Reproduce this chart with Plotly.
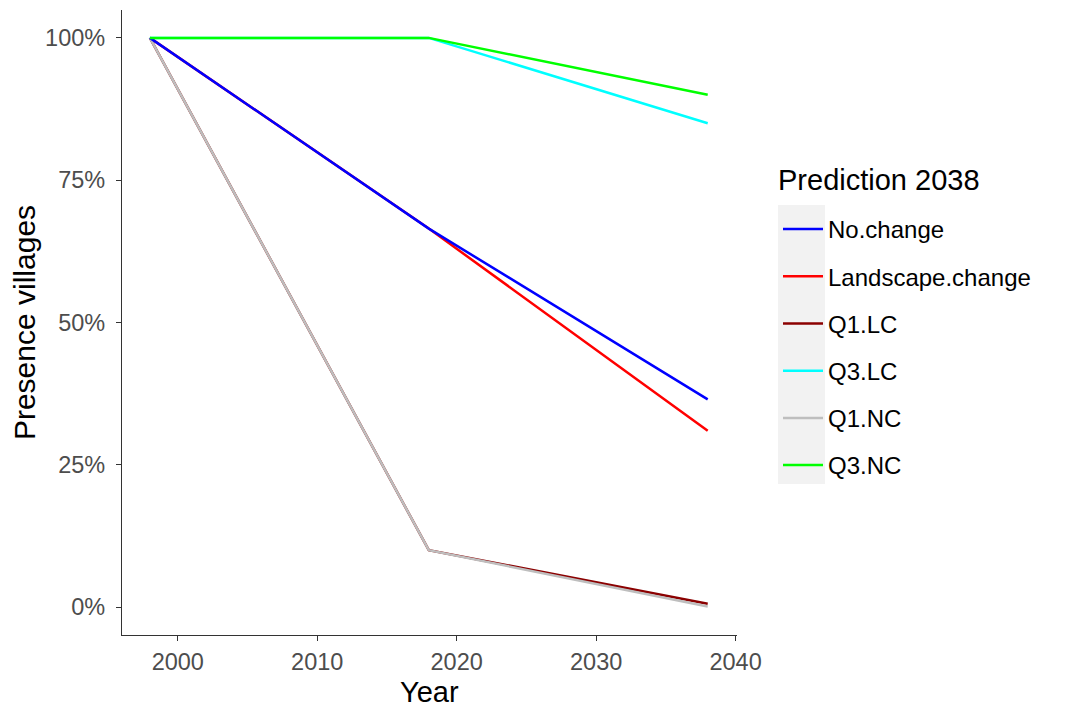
import plotly.graph_objects as go

years = [1998, 2018, 2038]
series_names = ["No.change", "Landscape.change", "Q1.LC", "Q3.LC", "Q1.NC", "Q3.NC"]
no_change = [1.0, 0.665, 0.365]
landscape_change = [1.0, 0.665, 0.31]
q1_lc = [1.0, 0.10, 0.006]
q3_lc = [1.0, 1.0, 0.85]
q1_nc = [1.0, 0.10, 0.001]
q3_nc = [1.0, 1.0, 0.90]
values = {
    "No.change": no_change,
    "Landscape.change": landscape_change,
    "Q1.LC": q1_lc,
    "Q3.LC": q3_lc,
    "Q1.NC": q1_nc,
    "Q3.NC": q3_nc,
}
colors = {
    "No.change": "#0000FF",
    "Landscape.change": "#FF0000",
    "Q1.LC": "#8B0000",
    "Q3.LC": "#00FFFF",
    "Q1.NC": "#BEBEBE",
    "Q3.NC": "#00FF00",
}
draw_order = ["Landscape.change", "Q1.LC", "Q3.LC", "Q1.NC", "No.change", "Q3.NC"]
y_ticks = [0, 0.25, 0.5, 0.75, 1.0]
y_tick_labels = ["0%", "25%", "50%", "75%", "100%"]
x_ticks = [2000, 2010, 2020, 2030, 2040]

# page body has an 8px margin, so the figure is offset by 8px in the window
W, H = 1050, 700
L, T = 114, 2
PW, PH = 615.0, 625.0
OX, OY = 122, 10  # screen position of the plot area's top-left corner


def px(sx):
    return (sx - OX) / PW


def py(sy):
    return (OY + PH - sy) / PH


FONT = "Liberation Sans, Arial, sans-serif"
TICK_SIZE = 23.5
LEGEND_SIZE = 24
TITLE_SIZE = 29

fig = go.Figure()
for name in draw_order:
    fig.add_trace(go.Scatter(
        x=years, y=values[name], mode="lines", name=name,
        line=dict(color=colors[name], width=2.5),
        legendrank=series_names.index(name) + 1,
        legendgroup=name,
    ))

# grey legend key background
fig.add_shape(type="rect", xref="paper", yref="paper",
              x0=px(778), x1=px(825), y0=py(484), y1=py(205),
              fillcolor="#F2F2F2", line=dict(width=0), layer="below")

# legend title
fig.add_annotation(text="Prediction 2038", xref="paper", yref="paper",
                   x=px(776), y=py(180), xanchor="left", yanchor="middle",
                   showarrow=False, font=dict(family=FONT, size=TITLE_SIZE, color="black"))

# x axis title
fig.add_annotation(text="Year", xref="paper", yref="paper",
                   x=0.5, y=py(692), xanchor="center", yanchor="middle",
                   showarrow=False, font=dict(family=FONT, size=TITLE_SIZE, color="black"))

axis_common = dict(
    showgrid=False, zeroline=False, showline=True, linecolor="#333333", linewidth=1.2,
    ticks="outside", ticklen=5, tickcolor="#333333", tickwidth=1.2,
    tickfont=dict(family=FONT, size=TICK_SIZE, color="#4D4D4D"),
    mirror=False, automargin=False,
)
fig.update_layout(
    width=W, height=H,
    margin=dict(l=L, r=W - L - int(PW), t=T, b=H - T - int(PH), autoexpand=False),
    plot_bgcolor="white", paper_bgcolor="white",
    font=dict(family=FONT, color="black"),
    xaxis=dict(range=[1996, 2040.1], tickvals=x_ticks, ticklabelstandoff=1, **axis_common),
    yaxis=dict(range=[-0.049, 1.049], tickvals=y_ticks, ticktext=y_tick_labels, ticklabelstandoff=6,
               title=dict(text="Presence villages", font=dict(size=TITLE_SIZE + 1), standoff=9),
               **axis_common),
    legend=dict(
        font=dict(family=FONT, size=LEGEND_SIZE),
        x=px(778), xanchor="left",
        y=py(207), yanchor="top",
        bgcolor="rgba(0,0,0,0)", tracegroupgap=13,
        itemwidth=40, traceorder="grouped",
    ),
    showlegend=True,
)
fig.write_html("out.html")
